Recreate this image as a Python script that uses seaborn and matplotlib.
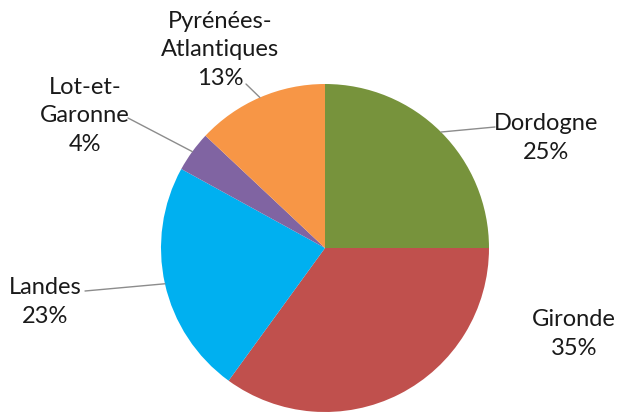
import numpy as np
import matplotlib
matplotlib.use("Agg")
import matplotlib.pyplot as plt
import seaborn as sns

# ---------- data ----------
departements = ["Dordogne", "Gironde", "Landes", "Lot-et-\nGaronne", "Pyrénées-\nAtlantiques"]
parts = [25, 35, 23, 4, 13]
colors = ["#77933C", "#C0504D", "#00B0F0", "#8064A2", "#F79646"]

sns.set_style("white")
plt.rcParams["font.family"] = ["Lato", "DejaVu Sans"]

W, H = 621, 416
fig = plt.figure(figsize=(W / 100, H / 100), dpi=100)
ax = fig.add_axes([0, 0, 1, 1])

# pixel coords -> data coords (y up)
def px(x, y):
    return x, H - y

cx, cy = px(325, 248)
r = 164
wedges, _ = ax.pie(parts, colors=colors, startangle=90, counterclock=False,
                   center=(cx, cy), radius=r, wedgeprops=dict(linewidth=0))

# label text positions (pixel coords) and leader line end points
label_pos = [(546, 138), (574, 334), (45, 302), (85, 116), (220, 50)]
leader_end = [(495, 127), None, (85, 291), (128, 118), (246, 84)]

for w, name, p, pos, end in zip(wedges, departements, parts, label_pos, leader_end):
    ax.text(*px(*pos), f"{name}\n{p}%", ha="center", va="center",
            fontsize=17, color="#1a1a1a", linespacing=1.45)
    if end is not None:
        mid = np.deg2rad((w.theta1 + w.theta2) / 2)
        ax.plot([cx + r * np.cos(mid), px(*end)[0]],
                [cy + r * np.sin(mid), px(*end)[1]],
                color="#8c8c8c", lw=1)

ax.set_xlim(0, W)
ax.set_ylim(0, H)
ax.set_aspect("equal")
ax.axis("off")

fig.savefig("out.png", dpi=100)
